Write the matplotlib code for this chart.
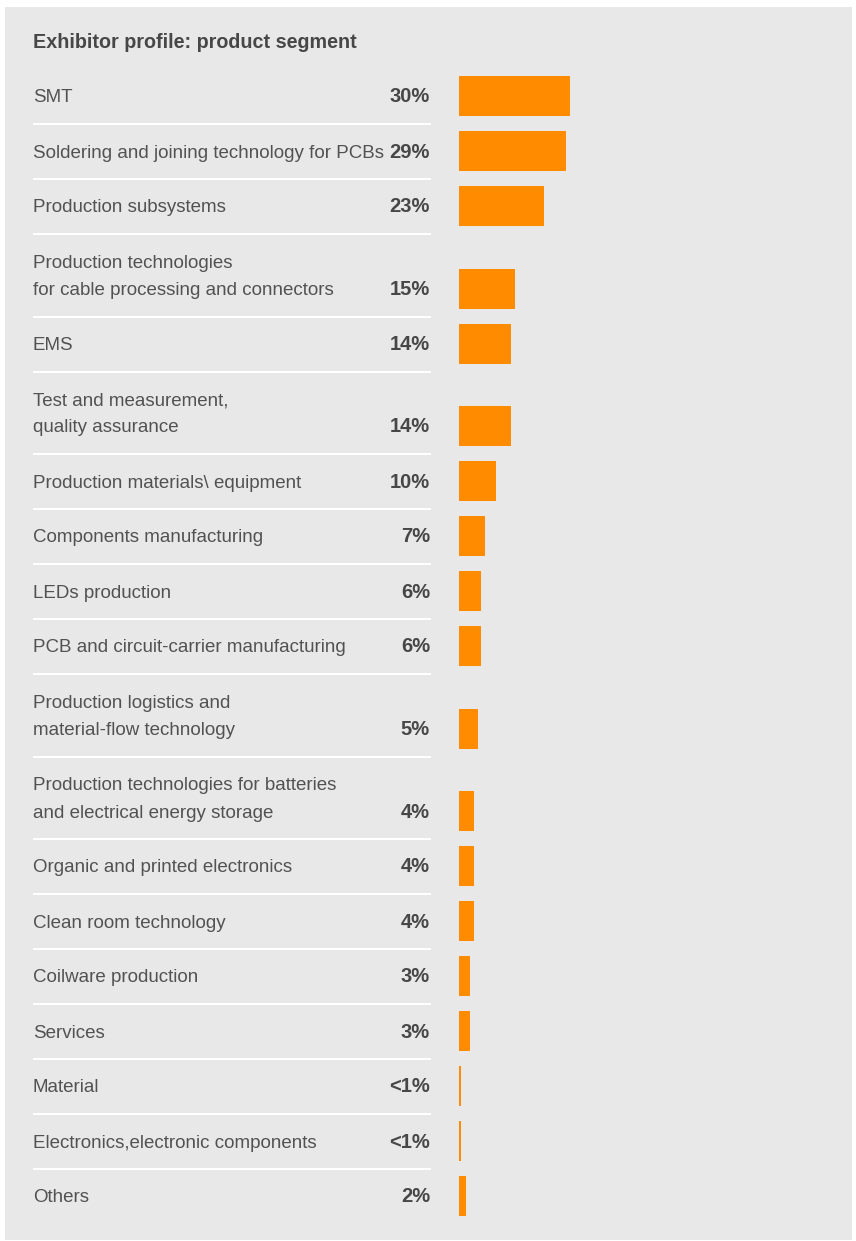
import matplotlib.pyplot as plt
from matplotlib.patches import Rectangle

plt.rcParams["font.family"] = ["Liberation Sans", "DejaVu Sans"]

# ---- data ----
title = "Exhibitor profile: product segment"
segments = [
    "SMT",
    "Soldering and joining technology for PCBs",
    "Production subsystems",
    "Production technologies\nfor cable processing and connectors",
    "EMS",
    "Test and measurement,\nquality assurance",
    "Production materials\\ equipment",
    "Components manufacturing",
    "LEDs production",
    "PCB and circuit-carrier manufacturing",
    "Production logistics and\nmaterial-flow technology",
    "Production technologies for batteries\nand electrical energy storage",
    "Organic and printed electronics",
    "Clean room technology",
    "Coilware production",
    "Services",
    "Material",
    "Electronics,electronic components",
    "Others",
]
shares = [30, 29, 23, 15, 14, 14, 10, 7, 6, 6, 5, 4, 4, 4, 3, 3, 0.5, 0.5, 2]
share_labels = ["30%", "29%", "23%", "15%", "14%", "14%", "10%", "7%", "6%",
                "6%", "5%", "4%", "4%", "4%", "3%", "3%", "<1%", "<1%", "2%"]

W, H = 856, 1241
BAR_LEFT = 459          # px where bars start
PX_PER_PCT = 3.7        # bar scale
ORANGE = "#ff8c00"
PANEL = "#e8e8e8"
TEXT = "#525252"
BOLD = "#474747"
FS = 13.5

fig = plt.figure(figsize=(W / 100, H / 100), dpi=100, facecolor="white")

# text layer in pixel coordinates
ax = fig.add_axes([0, 0, 1, 1])
ax.set_xlim(0, W)
ax.set_ylim(H, 0)
ax.axis("off")
ax.add_patch(Rectangle((5, 7), 847, 1233, facecolor=PANEL, edgecolor="none", zorder=0))

ax.text(33, 42 + 6.5, title, fontsize=14.2, fontweight="bold", color=BOLD,
        va="baseline", ha="left")

# row layout
top = 69
line_gap = 27.5
centers = []
seps = []
for i, seg in enumerate(segments):
    lines = seg.split("\n")
    for j, ln in enumerate(lines):
        ax.text(33, top + 27 + j * line_gap + 6.5, ln, fontsize=FS, color=TEXT,
                va="baseline", ha="left")
    yc = top + 27 + (len(lines) - 1) * line_gap
    centers.append(yc)
    ax.text(430, yc + 6.5, share_labels[i], fontsize=14.5, fontweight="bold",
            color=BOLD, va="baseline", ha="right")
    top += 55 + (len(lines) - 1) * line_gap
    if i < len(segments) - 1:
        seps.append(top)

ax.hlines(seps, 33, 431, color="white", lw=1.5)

# bar layer: x in percent
bx = fig.add_axes([BAR_LEFT / W, 0, 1 - BAR_LEFT / W, 1])
bx.set_xlim(0, (W - BAR_LEFT) / PX_PER_PCT)
bx.set_ylim(H, 0)
bx.axis("off")
bx.barh(centers, shares, height=40, left=0, color=ORANGE, zorder=2)

fig.savefig("out.png", dpi=100, facecolor="white")
